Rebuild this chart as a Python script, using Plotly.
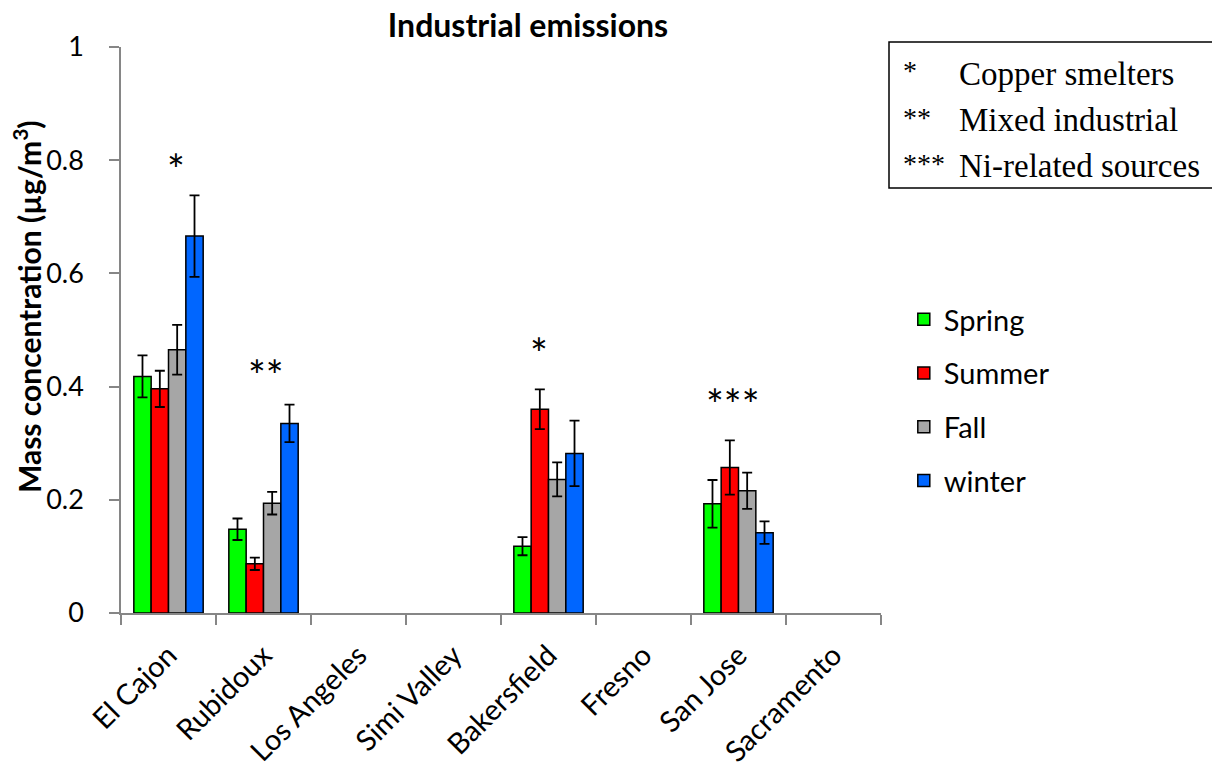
import plotly.graph_objects as go

sites = ["El Cajon", "Rubidoux", "Los Angeles", "Simi Valley",
         "Bakersfield", "Fresno", "San Jose", "Sacramento"]
seasons = ["Spring", "Summer", "Fall", "winter"]
colors = ["#00FF00", "#FF0000", "#A6A6A6", "#0066FF"]

spring = [0.418, 0.148, None, None, 0.118, None, 0.193, None]
summer = [0.396, 0.087, None, None, 0.360, None, 0.257, None]
fall   = [0.465, 0.194, None, None, 0.236, None, 0.216, None]
winter = [0.666, 0.335, None, None, 0.282, None, 0.142, None]

spring_err = [0.037, 0.019, None, None, 0.016, None, 0.042, None]
summer_err = [0.032, 0.011, None, None, 0.035, None, 0.048, None]
fall_err   = [0.044, 0.020, None, None, 0.030, None, 0.032, None]
winter_err = [0.072, 0.033, None, None, 0.058, None, 0.020, None]

values = [spring, summer, fall, winter]
errors = [spring_err, summer_err, fall_err, winter_err]

# source markers above bars
mark_sites = ["El Cajon", "Rubidoux", "Bakersfield", "San Jose"]
mark_text = ["*", "**", "*", "***"]
mark_y = [0.785, 0.42, 0.46, 0.37]
mark_shift = [7, 2, -10, -6]

key_symbols = ["*", "**", "***"]
key_labels = ["Copper smelters", "Mixed industrial", "Ni-related sources"]

SANS = "Lato, 'Open Sans', sans-serif"
SERIF = "'Liberation Serif', 'Times New Roman', serif"
AXIS = "#868686"

# page offset (browser body margin) compensation
OFF = 8
L, T = 121 - OFF, 47 - OFF
PW, PH = 760, 566

def px(xp):
    return (xp - 121) / PW

def py(yp):
    return (613 - yp) / PH

fig = go.Figure()
for i, s in enumerate(seasons):
    fig.add_trace(go.Bar(
        name=s, x=sites, y=values[i],
        marker=dict(color=colors[i], line=dict(color="black", width=1.5)),
        error_y=dict(type="data", array=errors[i], visible=True,
                     color="black", thickness=1.8, width=5),
        legendgroup=s,
    ))

annotations = []
for s, t, y, dx in zip(mark_sites, mark_text, mark_y, mark_shift):
    annotations.append(dict(x=s, y=y, xref="x", yref="y", text=t, showarrow=False,
                            xshift=dx, font=dict(family=SANS, size=42, color="black")))

key_y = [74, 120, 166]
for sym, lab, yy in zip(key_symbols, key_labels, key_y):
    annotations.append(dict(x=px(901), y=py(yy - 3), xref="paper", yref="paper",
                            text=sym, showarrow=False, xanchor="left", yanchor="middle",
                            font=dict(family=SERIF, size=28, color="black")))
    annotations.append(dict(x=px(957), y=py(yy), xref="paper", yref="paper",
                            text=lab, showarrow=False, xanchor="left", yanchor="middle",
                            font=dict(family=SERIF, size=33, color="black")))

annotations.append(dict(x=px(27), y=py(307), xref="paper", yref="paper",
                        xanchor="center", yanchor="middle",
                        text="<b>Mass concentration (µg/m<sup>3</sup>)</b>",
                        textangle=-90, showarrow=False,
                        font=dict(family=SANS, size=30, color="black")))

fig.update_layout(
    width=1220, height=766,
    margin=dict(l=L, r=1220 - L - PW, t=T, b=766 - T - PH, autoexpand=False),
    paper_bgcolor="white", plot_bgcolor="white",
    barmode="group", bargap=0.27, bargroupgap=0,
    title=dict(text="<b>Industrial emissions</b>", x=px(528), xref="paper",
               xanchor="center", y=1 - (26 - OFF) / 766, yanchor="middle",
               font=dict(family=SANS, size=32, color="black")),
    font=dict(family=SANS, size=25, color="black"),
    showlegend=True,
    legend=dict(x=1.03, y=py(294), xanchor="left", yanchor="top",
                font=dict(family=SANS, size=29, color="black"),
                tracegroupgap=13, bgcolor="rgba(0,0,0,0)"),
    annotations=annotations,
    shapes=[dict(type="rect", xref="paper", yref="paper",
                 x0=px(889), x1=px(1213), y0=py(188), y1=py(42),
                 line=dict(color="black", width=1.5), fillcolor="rgba(0,0,0,0)")],
)

fig.update_xaxes(showline=True, linecolor=AXIS, linewidth=1.5, ticks="outside",
                 tickson="boundaries", ticklen=10, tickcolor=AXIS, tickwidth=1.5,
                 tickangle=-45, showgrid=False, zeroline=False, ticklabelstandoff=12,
                 automargin=False, tickfont=dict(family=SANS, size=29))
fig.update_yaxes(range=[0, 1], dtick=0.2, showline=True, linecolor=AXIS, linewidth=1.5,
                 ticks="outside", ticklen=10, tickcolor=AXIS, tickwidth=1.5,
                 showgrid=False, zeroline=False, ticklabelstandoff=20,
                 automargin=False, tickfont=dict(family=SANS, size=27))

fig.write_html("out.html")
